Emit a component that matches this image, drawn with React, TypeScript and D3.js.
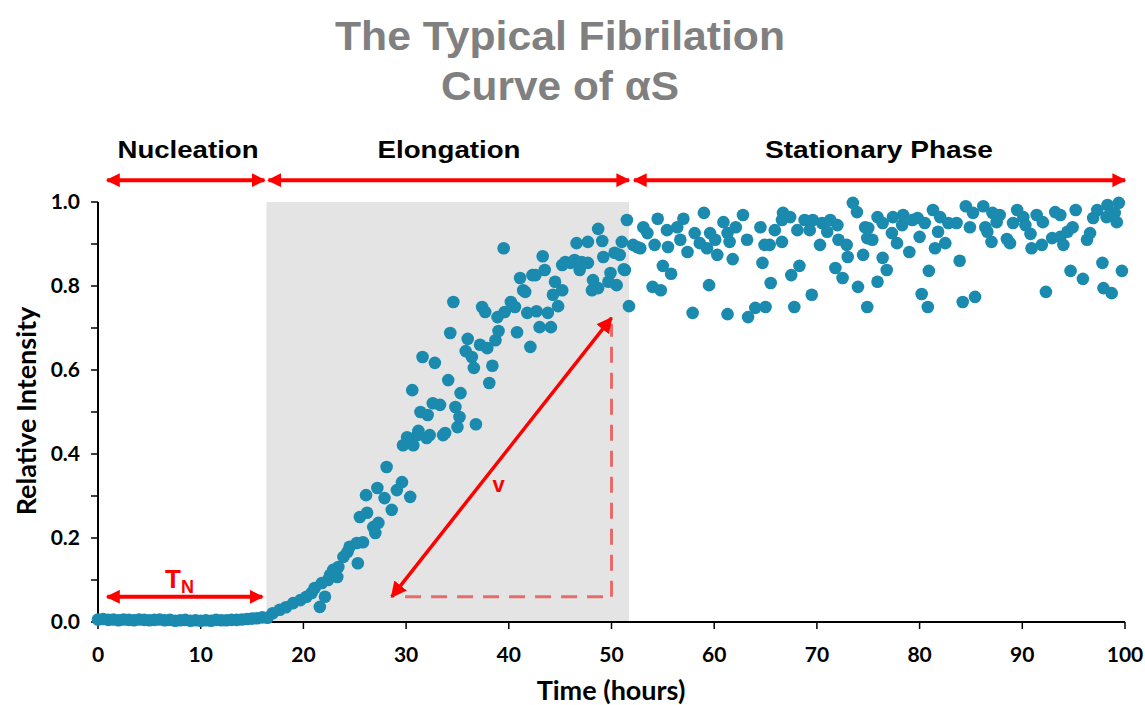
import React from "react";
import * as d3 from "d3";

const W = 1145, H = 705;

const xTicks = [0, 10, 20, 30, 40, 50, 60, 70, 80, 90, 100];
const yTicks = [0, 0.2, 0.4, 0.6, 0.8, 1.0];
const yMinorTicks = [0.1, 0.3, 0.5, 0.7, 0.9];

const titleLines = ["The Typical Fibrilation", "Curve of αS"];
const phaseLabels = ["Nucleation", "Elongation", "Stationary Phase"];
const phaseRanges: [number, number][] = [[0.9, 16.2], [16.6, 51.7], [52.2, 100]];
const shadeRange: [number, number] = [16.4, 51.7];

const nucleationPts: [number, number][] = [
  [0, 0.006], [0.5, 0.007], [1, 0.005], [1.5, 0.006], [2, 0.004], [2.5, 0.006], [3, 0.005], [3.5, 0.004],
  [4, 0.006], [4.5, 0.005], [5, 0.004], [5.5, 0.005], [6, 0.006], [6.5, 0.004], [7, 0.005], [7.5, 0.003],
  [8, 0.004], [8.5, 0.005], [9, 0.003], [9.5, 0.004], [10, 0.003], [10.5, 0.004], [11, 0.003], [11.5, 0.005],
  [12, 0.004], [12.5, 0.004], [13, 0.005], [13.5, 0.005], [14, 0.006], [14.5, 0.007], [15, 0.008], [15.5, 0.009],
  [16, 0.011],
];

const elongationPts: [number, number][] = [
  [16.5, 0.01], [17.0, 0.021], [17.7, 0.029], [18.3, 0.035], [19.0, 0.045], [19.7, 0.052], [20.3, 0.06], [20.8, 0.069],
  [21.1, 0.081], [21.6, 0.036], [21.8, 0.093], [22.1, 0.06], [22.4, 0.1], [22.6, 0.112], [22.9, 0.124], [23.3, 0.107],
  [23.4, 0.131], [23.9, 0.155], [24.3, 0.167], [24.5, 0.179], [25.2, 0.188], [25.3, 0.14], [25.5, 0.25], [25.8, 0.19],
  [26.1, 0.302], [26.2, 0.26], [26.8, 0.226], [27.0, 0.212], [27.2, 0.319], [27.3, 0.236], [27.9, 0.295], [28.1, 0.369],
  [28.6, 0.267], [29.1, 0.314], [29.6, 0.333], [29.7, 0.421], [30.1, 0.44], [30.4, 0.298], [30.6, 0.552], [30.7, 0.421],
  [31.1, 0.445], [31.2, 0.455], [31.4, 0.5], [31.6, 0.631], [32.0, 0.438], [32.1, 0.493], [32.3, 0.445], [32.6, 0.521],
  [32.8, 0.617], [33.3, 0.517], [33.6, 0.445], [33.8, 0.45], [34.1, 0.576], [34.3, 0.688], [34.6, 0.762], [34.8, 0.512],
  [35.0, 0.464], [35.3, 0.545], [35.2, 0.488], [35.8, 0.645], [36.0, 0.674], [36.4, 0.631], [36.6, 0.605], [36.8, 0.471],
  [37.2, 0.66], [37.4, 0.75], [37.7, 0.738], [37.9, 0.652], [38.1, 0.569], [38.4, 0.61], [38.7, 0.671], [38.9, 0.726],
  [39.0, 0.693], [39.5, 0.89], [39.6, 0.738], [40.2, 0.762], [40.6, 0.75], [40.8, 0.69], [41.1, 0.819], [41.4, 0.79],
  [41.6, 0.786], [41.8, 0.736], [42.1, 0.655], [42.3, 0.826], [42.6, 0.826], [42.7, 0.74], [43.0, 0.702], [43.3, 0.871],
  [43.5, 0.838], [43.8, 0.736], [44.1, 0.702], [44.3, 0.779], [44.5, 0.81], [44.8, 0.752], [45.2, 0.79], [45.2, 0.85],
  [45.5, 0.857], [46.0, 0.855], [46.4, 0.862], [46.6, 0.902], [46.9, 0.838], [47.1, 0.857], [47.7, 0.855], [47.7, 0.905],
  [48.1, 0.79], [48.2, 0.814], [48.7, 0.936], [48.7, 0.795], [49.1, 0.907], [49.2, 0.869], [49.7, 0.81], [49.9, 0.831],
  [50.3, 0.879], [50.5, 0.802], [50.8, 0.874], [51.0, 0.905], [51.2, 0.84], [51.3, 0.838], [51.5, 0.957], [51.7, 0.752],
];

const stationaryPts: [number, number][] = [
  [52.1, 0.898], [52.5, 0.893], [52.8, 0.89], [53.1, 0.94], [53.5, 0.926], [54.0, 0.798], [54.2, 0.898], [54.5, 0.96],
  [54.8, 0.79], [55.0, 0.848], [55.4, 0.933], [55.5, 0.893], [55.8, 0.829], [56.4, 0.94], [56.7, 0.91], [57.0, 0.96],
  [57.4, 0.881], [57.9, 0.736], [58.1, 0.926], [58.6, 0.902], [59.0, 0.974], [59.3, 0.89], [59.5, 0.802], [59.6, 0.926],
  [60.1, 0.91], [60.3, 0.874], [60.9, 0.952], [61.3, 0.926], [61.3, 0.733], [61.5, 0.905], [61.8, 0.864], [62.1, 0.94],
  [62.8, 0.969], [63.2, 0.91], [63.3, 0.726], [64.0, 0.748], [64.5, 0.94], [64.7, 0.855], [64.9, 0.898], [65.0, 0.75],
  [65.4, 0.898], [65.5, 0.807], [65.9, 0.933], [66.6, 0.957], [66.6, 0.905], [66.7, 0.974], [67.4, 0.964], [67.5, 0.826],
  [67.8, 0.75], [68.1, 0.933], [68.3, 0.848], [68.8, 0.957], [69.3, 0.933], [69.5, 0.779], [69.6, 0.957], [70.3, 0.898],
  [70.5, 0.95], [71.0, 0.929], [71.3, 0.957], [71.8, 0.843], [72.0, 0.945], [72.1, 0.91], [72.5, 0.819], [72.9, 0.898],
  [73.0, 0.869], [73.5, 0.998], [73.9, 0.976], [74.0, 0.798], [74.5, 0.874], [74.7, 0.94], [74.9, 0.75], [74.9, 0.914],
  [75.0, 0.938], [75.4, 0.91], [75.9, 0.81], [75.9, 0.964], [76.4, 0.867], [76.4, 0.95], [76.8, 0.838], [77.3, 0.926],
  [77.4, 0.964], [77.8, 0.902], [78.3, 0.945], [78.4, 0.969], [79.0, 0.881], [79.3, 0.957], [79.8, 0.962], [80.0, 0.917],
  [80.2, 0.781], [80.5, 0.95], [80.8, 0.75], [80.9, 0.836], [81.3, 0.981], [81.5, 0.89], [81.8, 0.929], [82.0, 0.964],
  [82.5, 0.902], [82.8, 0.95], [83.6, 0.95], [83.9, 0.86], [84.2, 0.762], [84.5, 0.99], [84.9, 0.94], [85.2, 0.974],
  [85.4, 0.774], [86.2, 0.99], [86.4, 0.94], [86.6, 0.929], [87.0, 0.905], [87.1, 0.974], [87.5, 0.952], [87.8, 0.969],
  [88.5, 0.912], [88.8, 0.902], [89.1, 0.95], [89.5, 0.981], [90.1, 0.964], [90.3, 0.945], [90.8, 0.924], [90.9, 0.89],
  [91.4, 0.969], [91.9, 0.898], [92.0, 0.952], [92.3, 0.786], [92.9, 0.914], [93.2, 0.976], [93.7, 0.969], [93.7, 0.917],
  [94.0, 0.898], [94.4, 0.929], [94.7, 0.836], [94.9, 0.94], [95.2, 0.981], [95.9, 0.817], [96.3, 0.91], [96.6, 0.926],
  [96.9, 0.962], [97.3, 0.981], [97.8, 0.855], [97.9, 0.795], [98.2, 0.964], [98.3, 0.993], [98.7, 0.783], [99.0, 0.974],
  [99.2, 0.952], [99.4, 0.998], [99.7, 0.836],
];

// annotation anchors (data units)
const tnRange: [number, number] = [0.9, 16.0];
const tnY = 0.06;
const vStart: [number, number] = [28.6, 0.06];
const vEnd: [number, number] = [50.0, 0.724];
const dashH: [number, number, number] = [29.9, 49.9, 0.06];
const dashV: [number, number, number] = [50.0, 0.06, 0.71];
const phaseY = 1.052;

export default function App() {
  const x = d3.scaleLinear().domain([0, 100]).range([98, 1125]);
  const y = d3.scaleLinear().domain([0, 1]).range([622, 202]);
  const allPts = [...nucleationPts, ...elongationPts, ...stationaryPts];
  const red = "#ff0000";
  const dot = "#1a8aae";
  const tickFont = "Lato, 'Open Sans', sans-serif";
  const headFont = "'Liberation Sans', Arial, sans-serif";

  const phaseTextX = [188, 449, 879];
  const phaseTextLen = [141, 143, 228];

  return (
    <svg width={W} height={H} style={{ position: "absolute", left: 0, top: 0, background: "#fff" }}>
      <defs>
        <marker id="ah" viewBox="0 0 10 10" refX="9" refY="5" markerWidth="14" markerHeight="14" markerUnits="userSpaceOnUse" orient="auto-start-reverse">
          <path d="M0,0 L10,5 L0,10 Z" fill={red} />
        </marker>
        <marker id="ahs" viewBox="0 0 10 10" refX="9" refY="5" markerWidth="16" markerHeight="16" markerUnits="userSpaceOnUse" orient="auto-start-reverse">
          <path d="M0,0 L10,5 L0,10 Z" fill={red} />
        </marker>
      </defs>
      <rect x={0} y={0} width={W} height={H} fill="#fff" />
      {/* Title */}
      {titleLines.map((t, i) => (
        <text key={t} x={560} y={50 + i * 50} textAnchor="middle" fontFamily={headFont} fontWeight="bold"
          fontSize={40} fill="#808080" textLength={i === 0 ? 450 : 238} lengthAdjust="spacingAndGlyphs">{t}</text>
      ))}
      {/* shaded elongation */}
      <rect x={x(shadeRange[0])} y={y(1)} width={x(shadeRange[1]) - x(shadeRange[0])} height={y(0) - y(1)} fill="#e4e4e4" />
      {/* phase labels and arrows */}
      {phaseLabels.map((p, i) => (
        <text key={p} x={phaseTextX[i]} y={158} textAnchor="middle" fontFamily={headFont} fontWeight="bold"
          fontSize={24} fill="#000" textLength={phaseTextLen[i]} lengthAdjust="spacingAndGlyphs">{p}</text>
      ))}
      {phaseRanges.map((r, i) => (
        <line key={i} x1={x(r[0])} x2={x(r[1])} y1={y(phaseY)} y2={y(phaseY)} stroke={red} strokeWidth={4}
          markerStart="url(#ah)" markerEnd="url(#ah)" />
      ))}
      {/* axes */}
      <line x1={x(0)} x2={x(100)} y1={y(0)} y2={y(0)} stroke="#000" strokeWidth={2} />
      <line x1={x(0)} x2={x(0)} y1={y(0)} y2={y(1)} stroke="#000" strokeWidth={2} />
      {xTicks.map((t) => (
        <g key={t}>
          <line x1={x(t)} x2={x(t)} y1={y(0)} y2={y(0) + 7} stroke="#000" strokeWidth={1.5} />
          <text x={x(t)} y={662} textAnchor="middle" fontFamily={tickFont} fontWeight="bold" fontSize={21} fill="#000">{t}</text>
        </g>
      ))}
      {yTicks.map((t) => (
        <g key={t}>
          <line x1={x(0) - 7} x2={x(0)} y1={y(t)} y2={y(t)} stroke="#000" strokeWidth={1.5} />
          <text x={80} y={y(t) + 7} textAnchor="end" fontFamily={tickFont} fontWeight="bold" fontSize={21} fill="#000">{t.toFixed(1)}</text>
        </g>
      ))}
      {yMinorTicks.map((t) => (
        <line key={t} x1={x(0) - 7} x2={x(0)} y1={y(t)} y2={y(t)} stroke="#000" strokeWidth={1.5} />
      ))}
      <text x={611} y={700} textAnchor="middle" fontFamily={tickFont} fontWeight="bold" fontSize={27} fill="#000">Time (hours)</text>
      <text transform={`translate(36,${411}) rotate(-90)`} textAnchor="middle" fontFamily={tickFont} fontWeight="bold" fontSize={27} fill="#000">Relative Intensity</text>
      {/* points */}
      {allPts.map((p, i) => (
        <circle key={i} cx={x(p[0])} cy={y(p[1])} r={6.3} fill={dot} />
      ))}
      {/* dashed guides */}
      <line x1={x(dashH[0])} x2={x(dashH[1])} y1={y(dashH[2])} y2={y(dashH[2])} stroke="#e86b6b" strokeWidth={3} strokeDasharray="16,10" />
      <line x1={x(dashV[0])} x2={x(dashV[0])} y1={y(dashV[1])} y2={y(dashV[2])} stroke="#e86b6b" strokeWidth={3} strokeDasharray="16,10" />
      {/* v arrow */}
      <line x1={x(vStart[0])} y1={y(vStart[1])} x2={x(vEnd[0])} y2={y(vEnd[1])} stroke={red} strokeWidth={3.5}
        markerStart="url(#ahs)" markerEnd="url(#ahs)" />
      <text x={x(39.0)} y={y(0.31)} textAnchor="middle" fontFamily={headFont} fontWeight="bold" fontSize={22} fill={red}>v</text>
      {/* T_N arrow */}
      <line x1={x(tnRange[0])} x2={x(tnRange[1])} y1={y(tnY)} y2={y(tnY)} stroke={red} strokeWidth={4}
        markerStart="url(#ah)" markerEnd="url(#ah)" />
      <text x={165} y={588} fontFamily={headFont} fontWeight="bold" fontSize={26} fill={red}>T<tspan fontSize={18} dy={5}>N</tspan></text>
    </svg>
  );
}
